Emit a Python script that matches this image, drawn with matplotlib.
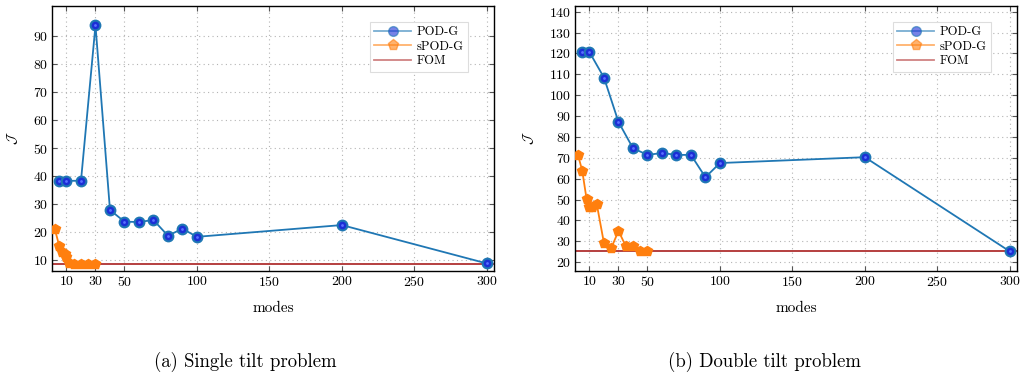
import matplotlib
matplotlib.use("Agg")
import matplotlib.pyplot as plt
from matplotlib.lines import Line2D

plt.rcParams['font.family'] = ['cmr10', 'DejaVu Serif']
plt.rcParams['mathtext.fontset'] = 'cm'
plt.rcParams['axes.formatter.use_mathtext'] = True

# ---- data: single tilt problem ----
a_pod_modes = [5, 10, 20, 30, 40, 50, 60, 70, 80, 90, 100, 200, 300]
a_pod_vals = [38.3, 38.3, 38.3, 93.8, 27.9, 23.7, 23.6, 24.3, 18.7, 21.2, 18.3, 22.5, 8.8]
a_spod_modes = [2, 5, 7, 9, 10, 12, 15, 20, 25, 30]
a_spod_vals = [21.0, 15.0, 13.0, 12.0, 11.0, 8.9, 8.6, 8.6, 8.6, 8.6]
a_fom = 8.6

# ---- data: double tilt problem ----
b_pod_modes = [5, 10, 20, 30, 40, 50, 60, 70, 80, 90, 100, 200, 300]
b_pod_vals = [120.6, 120.6, 108.4, 87.2, 74.6, 71.4, 72.3, 71.4, 71.4, 60.7, 67.5, 70.3, 25.2]
b_spod_modes = [2, 5, 8, 10, 12, 15, 20, 25, 30, 35, 40, 45, 50]
b_spod_vals = [71.5, 63.8, 50.2, 46.3, 46.3, 47.9, 29.1, 26.7, 35.0, 27.8, 28.0, 25.5, 25.4]
b_fom = 25.5

xticks = [10, 30, 50, 100, 150, 200, 250, 300]
a_yticks = [10, 20, 30, 40, 50, 60, 70, 80, 90]
b_yticks = [20, 30, 40, 50, 60, 70, 80, 90, 100, 110, 120, 130, 140]

captions = ["(a) Single tilt problem", "(b) Double tilt problem"]

POD_LINE = '#1f77b4'
POD_FACE = '#1c2fd6'
SPOD = '#ff7f0e'
FOM = '#b03030'

fig = plt.figure(figsize=(10.28, 3.8), dpi=100)
W, H = 1028, 380
ax_a = fig.add_axes([52 / W, (H - 271) / H, 442 / W, 265 / H])
ax_b = fig.add_axes([575 / W, (H - 271) / H, 442 / W, 265 / H])


def draw(ax, pm, pv, sm, sv, fom, yticks, ylim):
    ax.axhline(fom, color=FOM, lw=1.3, zorder=2)
    ax.plot(sm, sv, color=SPOD, lw=1.3, marker='p', markersize=7.5,
            markerfacecolor=SPOD, markeredgecolor=SPOD, zorder=3)
    ax.plot(pm, pv, color=POD_LINE, lw=1.3, marker='o', markersize=7,
            markerfacecolor=POD_FACE, markeredgecolor=POD_LINE,
            markeredgewidth=1.5, zorder=4)
    ax.plot(pm, pv, linestyle='none', marker='o', markersize=2.0,
            markerfacecolor='#5a70ff', markeredgecolor='none', zorder=5)
    ax.set_xlim(0, 305)
    ax.set_ylim(*ylim)
    ax.set_xticks(xticks)
    ax.set_yticks(yticks)
    ax.grid(True, linestyle=(0, (1, 3)), color='#b4b4b4', lw=0.8)
    ax.tick_params(direction='in', top=True, right=True, length=3.5,
                   width=0.8, labelsize=10, color='#555555', pad=3)
    for s in ax.spines.values():
        s.set_linewidth(1.0)
    ax.set_xlabel('modes', fontsize=11, labelpad=9)
    ax.set_ylabel(r'$\mathcal{J}$', fontsize=10, labelpad=9)
    handles = [
        Line2D([], [], color=POD_LINE, lw=1.3, marker='o', markersize=7,
               markerfacecolor=POD_FACE, markeredgecolor=POD_LINE, alpha=0.6),
        Line2D([], [], color=SPOD, lw=1.3, marker='p', markersize=8,
               markerfacecolor=SPOD, markeredgecolor=SPOD, alpha=0.6),
        Line2D([], [], color=FOM, lw=1.3, alpha=0.6),
    ]
    leg = ax.legend(handles, ['POD-G', 'sPOD-G', 'FOM'], loc='upper right',
                    bbox_to_anchor=(0.955, 0.965), fontsize=9, frameon=True,
                    fancybox=False, edgecolor='#dddddd', framealpha=1,
                    handlelength=3.0, handletextpad=0.4, borderpad=0.35,
                    labelspacing=0.2)
    leg.get_frame().set_linewidth(0.8)


draw(ax_a, a_pod_modes, a_pod_vals, a_spod_modes, a_spod_vals, a_fom,
     a_yticks, (6.1, 100.7))
draw(ax_b, b_pod_modes, b_pod_vals, b_spod_modes, b_spod_vals, b_fom,
     b_yticks, (15.8, 142.7))

fig.text(245 / W, 1 - 362 / H, captions[0], ha='center', va='center', fontsize=13.5)
fig.text(764 / W, 1 - 362 / H, captions[1], ha='center', va='center', fontsize=13.5)

fig.savefig('out.png', dpi=100)
